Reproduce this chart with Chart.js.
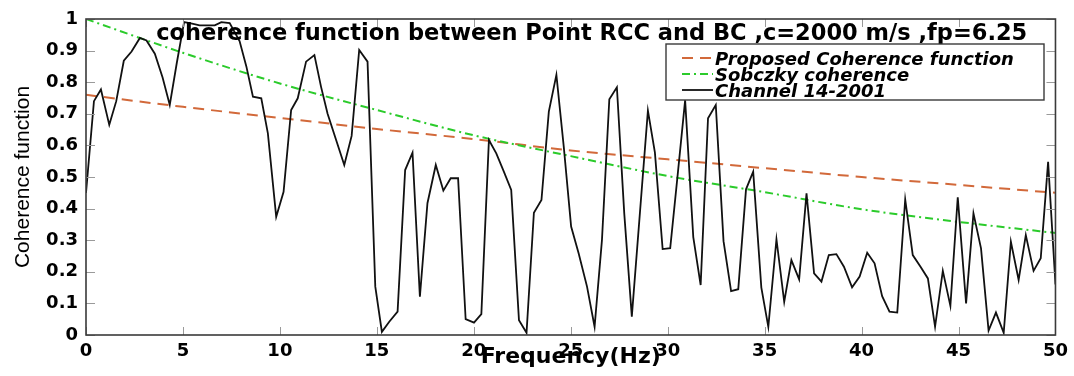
<!DOCTYPE html>
<html>
<head>
<meta charset="utf-8">
<script src="https://cdn.jsdelivr.net/npm/chart.js@4.4.1/dist/chart.umd.min.js"></script>
<style>
  html, body { margin: 0; padding: 0; background: #fff; }
</style>
</head>
<body>
<canvas id="coherenceChart" width="1074" height="376"></canvas>
<script>
    var orange = '#D2693A',
        green  = '#2BCB2B',
        black  = '#111111',
        frame  = '#3A3A3A',
        tickGray = '#9A9A9A';

    // ------------------------------------------------------- //
    // Data
    // ------------------------------------------------------ //
    var modelFreq   = [0, 5, 10, 15, 20, 25, 30, 35, 40, 45, 50];
    var proposedCoh = [0.76, 0.722, 0.687, 0.652, 0.62, 0.584, 0.556, 0.528, 0.50, 0.475, 0.45];
    var sobczkyCoh  = [1.0, 0.893, 0.796, 0.712, 0.632, 0.566, 0.503, 0.452, 0.398, 0.358, 0.323];

    var channelFreq = [
        0.00, 0.41, 0.77, 1.20, 1.56, 1.95, 2.35, 2.78, 3.12, 3.55, 3.95, 4.32, 4.68,
        5.06, 5.47, 5.86, 6.25, 6.64, 6.98, 7.41, 7.92, 8.27, 8.61, 9.04, 9.38, 9.81,
        10.19, 10.58, 10.92, 11.35, 11.78, 12.12, 12.46, 12.90, 13.32, 13.70, 14.09, 14.52, 14.92,
        15.26, 15.64, 16.07, 16.46, 16.84, 17.22, 17.61, 18.04, 18.43, 18.81, 19.19, 19.58,
        20.01, 20.39, 20.78, 21.16, 21.55, 21.93, 22.33, 22.72, 23.10, 23.49, 23.87, 24.26, 24.64,
        25.02, 25.41, 25.84, 26.23, 26.61, 26.99, 27.38, 27.76, 28.15, 28.58, 28.98, 29.34, 29.74,
        30.13, 30.52, 30.90, 31.32, 31.70, 32.08, 32.48, 32.88, 33.27, 33.64, 34.04, 34.41, 34.83,
        35.19, 35.61, 36.01, 36.38, 36.78, 37.16, 37.55, 37.93, 38.31, 38.70, 39.09, 39.51, 39.90,
        40.29, 40.67, 41.06, 41.44, 41.84, 42.25, 42.64, 43.04, 43.42, 43.79, 44.19, 44.58, 44.96,
        45.39, 45.77, 46.16, 46.55, 46.93, 47.33, 47.70, 48.10, 48.47, 48.87, 49.24, 49.62, 50.00
    ];
    var channelCoh = [
        0.45, 0.74, 0.777, 0.665, 0.74, 0.868, 0.897, 0.94, 0.932, 0.89, 0.815, 0.728, 0.86,
        0.99, 0.985, 0.98, 0.98, 0.98, 0.99, 0.987, 0.93, 0.85, 0.754, 0.749, 0.638, 0.374,
        0.453, 0.712, 0.749, 0.865, 0.886, 0.786, 0.70, 0.617, 0.538, 0.63, 0.902, 0.865, 0.153,
        0.01, 0.042, 0.074, 0.522, 0.577, 0.121, 0.417, 0.538, 0.457, 0.496, 0.496, 0.05,
        0.039, 0.066, 0.617, 0.575, 0.517, 0.459, 0.047, 0.007, 0.387, 0.427, 0.707, 0.823, 0.596,
        0.343, 0.258, 0.153, 0.026, 0.30, 0.746, 0.784, 0.385, 0.058, 0.396, 0.71, 0.578, 0.272,
        0.275, 0.51, 0.743, 0.31, 0.158, 0.686, 0.728, 0.297, 0.139, 0.145, 0.461, 0.517, 0.15,
        0.026, 0.303, 0.105, 0.237, 0.176, 0.448, 0.195, 0.169, 0.253, 0.256, 0.216, 0.151, 0.185,
        0.26, 0.227, 0.123, 0.074, 0.071, 0.429, 0.253, 0.216, 0.179, 0.026, 0.203, 0.092, 0.436,
        0.10, 0.385, 0.274, 0.014, 0.071, 0.007, 0.295, 0.174, 0.316, 0.203, 0.243, 0.548, 0.16
    ];

    var xTicks = [0, 5, 10, 15, 20, 25, 30, 35, 40, 45, 50];
    var yTicks = [0, 0.1, 0.2, 0.3, 0.4, 0.5, 0.6, 0.7, 0.8, 0.9, 1];

    var chartTitle = 'coherence function between Point RCC and BC ,c=2000 m/s ,fp=6.25';
    var legendLabels = ['Proposed Coherence function', 'Sobczky coherence', 'Channel 14-2001'];

    function toPoints(xs, ys) {
        return xs.map(function (x, i) { return { x: x, y: ys[i] }; });
    }

    // ------------------------------------------------------- //
    // Frame, inward ticks, title and legend
    // ------------------------------------------------------ //
    var framePlugin = {
        id: 'framePlugin',
        afterDatasetsDraw: function (chart) {
            var ctx = chart.ctx,
                a = chart.chartArea,
                xs = chart.scales.x,
                ys = chart.scales.y;

            ctx.save();
            ctx.strokeStyle = tickGray;
            ctx.lineWidth = 1;
            ctx.beginPath();
            xTicks.forEach(function (v) {
                var px = Math.round(xs.getPixelForValue(v)) + 0.5;
                ctx.moveTo(px, a.bottom); ctx.lineTo(px, a.bottom - 8);
                ctx.moveTo(px, a.top);    ctx.lineTo(px, a.top + 8);
            });
            yTicks.forEach(function (v) {
                var py = Math.round(ys.getPixelForValue(v)) + 0.5;
                ctx.moveTo(a.left, py);  ctx.lineTo(a.left + 9, py);
                ctx.moveTo(a.right, py); ctx.lineTo(a.right - 9, py);
            });
            ctx.stroke();

            ctx.strokeStyle = frame;
            ctx.lineWidth = 1.6;
            ctx.strokeRect(a.left, a.top, a.right - a.left, a.bottom - a.top);

            // title sits inside the plot box
            ctx.fillStyle = '#000';
            ctx.font = 'bold 22.5px "DejaVu Sans"';
            ctx.textAlign = 'center';
            ctx.textBaseline = 'alphabetic';
            ctx.fillText(chartTitle, (a.left + a.right) / 2 + 21, a.top + 21);

            // legend box, top right
            var bx = a.left + 580, by = a.top + 25, bw = 378, bh = 56;
            ctx.fillStyle = '#fff';
            ctx.fillRect(bx, by, bw, bh);
            ctx.strokeStyle = frame;
            ctx.lineWidth = 1.4;
            ctx.strokeRect(bx, by, bw, bh);

            var styles = chart.data.datasets;
            ctx.font = 'italic bold 18px "DejaVu Sans"';
            ctx.textAlign = 'left';
            for (var i = 0; i < styles.length; i++) {
                var rowY = by + 14 + i * 16;
                ctx.strokeStyle = styles[i].borderColor;
                ctx.lineWidth = styles[i].borderWidth;
                ctx.setLineDash(styles[i].borderDash || []);
                ctx.beginPath();
                ctx.moveTo(bx + 16, rowY);
                ctx.lineTo(bx + 47, rowY);
                ctx.stroke();
                ctx.setLineDash([]);
                ctx.fillStyle = '#000';
                ctx.fillText(legendLabels[i], bx + 49, rowY + 7);
            }
            ctx.restore();
        }
    };

    // ------------------------------------------------------- //
    // Line Chart
    // ------------------------------------------------------ //
    var ctx = document.getElementById('coherenceChart').getContext('2d');
    var coherenceChart = new Chart(ctx, {
        type: 'line',
        data: {
            datasets: [
                {
                    label: legendLabels[0],
                    data: toPoints(modelFreq, proposedCoh),
                    borderColor: orange,
                    borderWidth: 2,
                    borderDash: [11, 7],
                    pointRadius: 0,
                    cubicInterpolationMode: 'monotone',
                    order: 2
                },
                {
                    label: legendLabels[1],
                    data: toPoints(modelFreq, sobczkyCoh),
                    borderColor: green,
                    borderWidth: 2,
                    borderDash: [8, 4, 2, 4],
                    pointRadius: 0,
                    cubicInterpolationMode: 'monotone',
                    order: 1
                },
                {
                    label: legendLabels[2],
                    data: toPoints(channelFreq, channelCoh),
                    borderColor: black,
                    borderWidth: 1.8,
                    pointRadius: 0,
                    tension: 0,
                    order: 0
                }
            ]
        },
        options: {
            responsive: false,
            devicePixelRatio: 1,
            animation: false,
            layout: { padding: { top: 19, right: 16, left: 0, bottom: 0 } },
            plugins: {
                legend: { display: false },
                tooltip: { enabled: false },
                title: { display: false }
            },
            scales: {
                x: {
                    type: 'linear',
                    min: 0,
                    max: 50,
                    afterFit: function (scale) { scale.height = 41; },
                    afterBuildTicks: function (scale) {
                        scale.ticks = xTicks.map(function (v) { return { value: v }; });
                    },
                    grid: { display: false, drawTicks: false },
                    border: { display: false },
                    ticks: {
                        padding: 6,
                        color: '#000',
                        maxRotation: 0,
                        font: { family: '"DejaVu Sans"', size: 18, weight: 'bold' }
                    },
                    title: {
                        display: true,
                        text: 'Frequency(Hz)',
                        color: '#000',
                        padding: { top: 0, bottom: 6 },
                        font: { family: '"DejaVu Sans"', size: 22, weight: 'bold' }
                    }
                },
                y: {
                    min: 0,
                    max: 1,
                    afterFit: function (scale) { scale.width = 86; },
                    afterBuildTicks: function (scale) {
                        scale.ticks = yTicks.map(function (v) { return { value: v }; });
                    },
                    grid: { display: false, drawTicks: false },
                    border: { display: false },
                    ticks: {
                        padding: 8,
                        color: '#000',
                        font: { family: '"DejaVu Sans"', size: 18, weight: 'bold' },
                        callback: function (v) { return (v === 0 || v === 1) ? String(v) : v.toFixed(1); }
                    },
                    title: {
                        display: true,
                        text: 'Coherence function',
                        color: '#000',
                        padding: { top: 11, bottom: 0 },
                        font: { family: '"Liberation Sans"', size: 21, weight: 'normal' }
                    }
                }
            }
        },
        plugins: [framePlugin]
    });
</script>
</body>
</html>
